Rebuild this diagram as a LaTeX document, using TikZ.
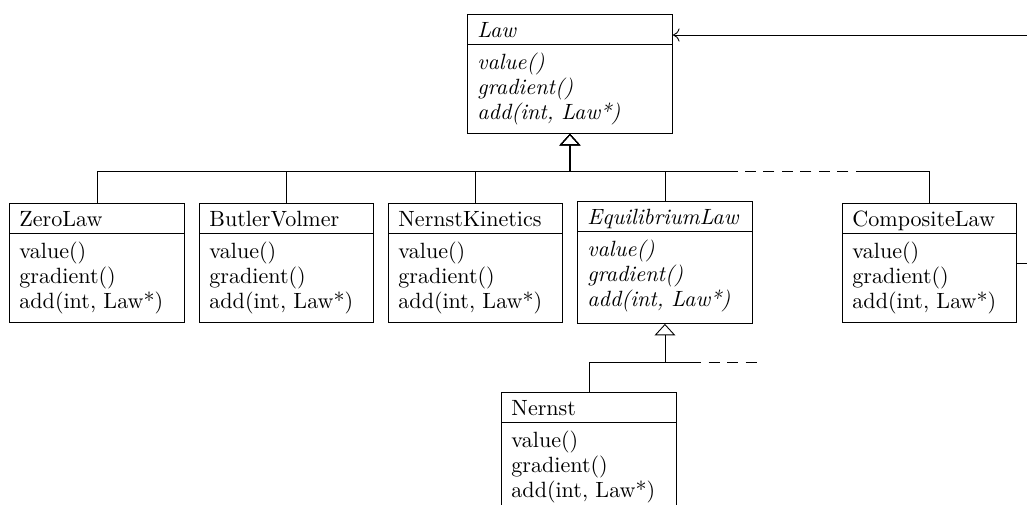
\documentclass[tikz,border=0pt]{standalone}
\usetikzlibrary{arrows.meta,calc}
\def\px{0.4531pt}
\def\boxh{119}
\def\hdh{30}
\tikzset{
  classbox/.style={draw, line width=0.4pt, inner sep=0pt, anchor=north west},
  ctext/.style={anchor=base west, inner sep=0pt},
  gen/.style={line width=0.4pt, -{Triangle[open, width=9.4pt, length=5.2pt]}},
  conn/.style={line width=0.4pt},
  more/.style={line width=0.4pt, dash pattern=on 5pt off 3.4pt},
  assoc/.style={line width=0.4pt, -{To[length=3pt, width=6pt]}},
}
\newcommand\umlclass[9]{%
  \node[classbox, minimum width=#4*\px, minimum height=\boxh*\px] (#1) at (#2,#3) {};
  \draw[conn] ($(#1.north west)+(0,\hdh)$) -- ($(#1.north east)+(0,\hdh)$);
  \node[ctext, font=#9] (#1-h) at ($(#1.north west)+(10,23)$) {#5};
  \node[ctext, font=#9] (#1-a) at ($(#1.north west)+(10,\hdh+25)$) {#6};
  \node[ctext, font=#9] (#1-b) at ($(#1.north west)+(10,\hdh+50)$) {#7};
  \node[ctext, font=#9] (#1-c) at ($(#1.north west)+(10,\hdh+75)$) {#8};
}
\begin{document}
\begin{tikzpicture}[x=0.4531pt, y=-0.4531pt]
\useasboundingbox (0,0) rectangle (1027,504);
\clip (0,0) rectangle (1027,504);

\umlclass{Law}{467}{14}{205}{Law}{value()}{gradient()}{add(int, Law*)}{\itshape}
\umlclass{ZeroLaw}{9}{203}{175}{ZeroLaw}{value()}{gradient()}{add(int, Law*)}{}
\umlclass{Butler}{199}{203}{174}{ButlerVolmer}{value()}{gradient()}{add(int, Law*)}{}
\umlclass{NK}{388}{203}{174}{NernstKinetics}{value()}{gradient()}{add(int, Law*)}{}
\umlclass{Comp}{842}{203}{174}{CompositeLaw}{value()}{gradient()}{add(int, Law*)}{}
\umlclass{Nernst}{501}{392}{175}{Nernst}{value()}{gradient()}{add(int, Law*)}{}
\def\boxh{122}
\umlclass{Eq}{577}{201}{175}{EquilibriumLaw}{value()}{gradient()}{add(int, Law*)}{\itshape}

% inheritance bus to Law
\coordinate (bus) at (Law.south |- 0,171);
\coordinate (cd1) at (867,171);
\coordinate (cd2) at (737,171);
\draw[gen] (ZeroLaw.north) |- (bus) -- (Law.south);
\draw[gen] (Butler.north) |- (bus) -- (Law.south);
\draw[gen] (NK.north) |- (bus) -- (Law.south);
\draw[gen] (Eq.north) |- (bus) -- (Law.south);
\draw[conn] (Comp.north) |- (cd1);
\draw[more] (cd1) -- (cd2);
\draw[gen] (cd2) -- (bus) -- (Law.south);
\draw[line width=0.8pt, shorten >=5pt] (bus) -- (Law.south);

% inheritance to EquilibriumLaw
\coordinate (sbus) at (Eq.south |- 0,362);
\coordinate (sd1) at (690,362);
\coordinate (sd2) at (760,362);
\draw[gen] (Nernst.north) |- (sbus) -- (Eq.south);
\draw[conn] (sbus) -- (sd1);
\draw[more] (sd1) -- (sd2);

% composite association
\coordinate (lawin) at ($(Law.north east)+(0,21)$);
\coordinate (cright) at ($(Comp.east)+(40,0)$);
\draw[assoc] (Comp.east) -- (cright) |- (lawin);
\end{tikzpicture}
\end{document}
